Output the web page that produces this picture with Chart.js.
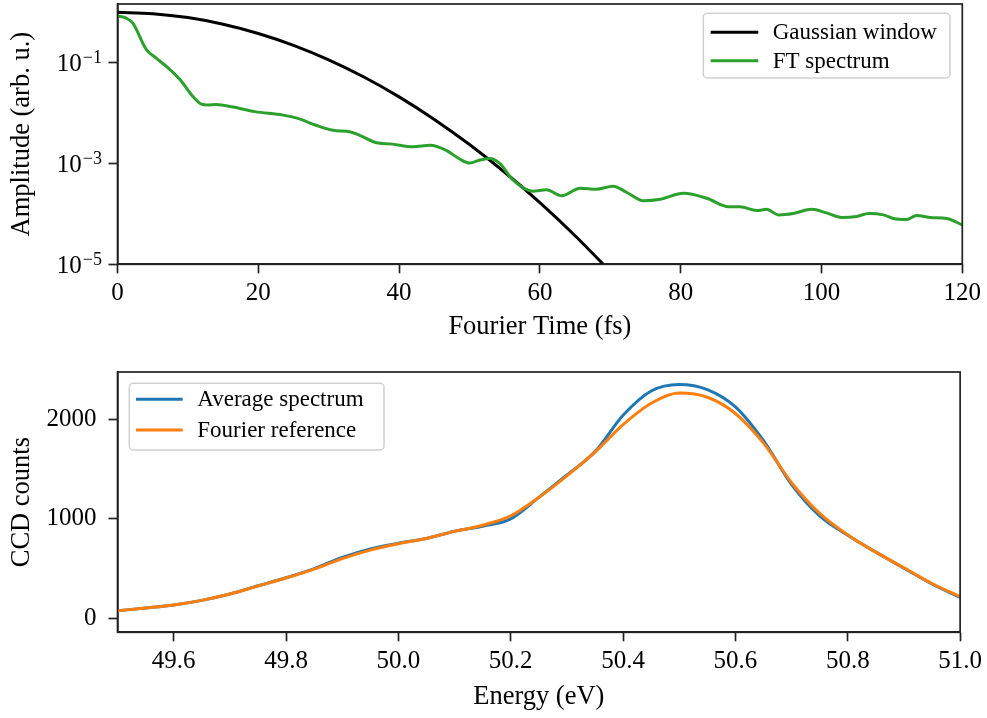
<!DOCTYPE html>
<html>
<head>
<meta charset="utf-8">
<script src="https://cdn.jsdelivr.net/npm/chart.js@4.4.0/dist/chart.umd.min.js"></script>
<style>
  html, body { margin: 0; padding: 0; background: #fff; }
  #wrap { position: relative; width: 987px; height: 718px; }
  .panel { position: absolute; left: 0; width: 987px; }
  #topPanel { top: 0; height: 345px; }
  #bottomPanel { top: 345px; height: 373px; }
</style>
</head>
<body>
<div id="wrap">
  <div class="panel" id="topPanel"><canvas id="ftChart"></canvas></div>
  <div class="panel" id="bottomPanel"><canvas id="specChart"></canvas></div>
</div>
<script>
// ---- Fourier-time panel data ----
const windowTime     = [0, 5, 10, 15, 20, 25, 30, 35, 40, 45, 50, 55, 60, 65, 70];
const gaussianWindow = [1.0, 0.94, 0.785, 0.58, 0.38, 0.221, 0.114, 0.0519, 0.021, 0.0075,
                        0.00238, 0.00067, 0.000167, 0.0000369, 0.0000072];

const ftTime = [0, 1.3, 2.2, 4.1, 5.5, 6.9, 8.9, 10.7, 11.9, 12.8,
                14.0, 16.4, 19.5, 23.5, 25.5, 28.2, 30.6, 33.0, 34.4, 36.8,
                38.7, 42.0, 44.4, 46.7, 48.6, 50.0, 51.5, 52.9, 54.3, 56.2,
                59.0, 60.9, 63.1, 65.7, 68.0, 70.4, 72.3, 74.7, 77.1, 80.4,
                83.7, 86.8, 88.4, 90.8, 92.2, 93.9, 96.0, 98.6, 100.7, 102.9,
                105.0, 106.7, 108.8, 110.2, 112.1, 113.5, 115.5, 117.8, 120];
const ftSpectrum = [0.843, 0.759, 0.603, 0.182, 0.123, 0.0851, 0.0457, 0.0214, 0.0151, 0.0145,
                    0.0148, 0.0132, 0.0107, 0.00912, 0.00794, 0.00575, 0.00457, 0.00427, 0.00363, 0.00257,
                    0.00245, 0.00214, 0.00229, 0.00182, 0.00123, 0.00102, 0.00117, 0.00126, 0.00100, 0.000468,
                    0.000282, 0.000302, 0.000229, 0.000324, 0.000309, 0.000355, 0.000269, 0.000182, 0.000195, 0.000257,
                    0.000204, 0.000138, 0.000138, 0.000117, 0.000123, 0.0000955, 0.000102, 0.000123, 0.000105, 0.0000851,
                    0.0000891, 0.000102, 0.0000955, 0.0000813, 0.0000776, 0.0000933, 0.0000851, 0.0000813, 0.0000603];

const timeTicks      = [0, 20, 40, 60, 80, 100, 120];
const amplitudeTicks = [1e-5, 1e-3, 1e-1];

// ---- Energy panel data ----
const energy = [49.50, 49.55, 49.60, 49.65, 49.70, 49.75, 49.80, 49.85, 49.90, 49.95,
                50.00, 50.05, 50.10, 50.15, 50.20, 50.25, 50.30, 50.35, 50.40, 50.45,
                50.50, 50.55, 50.60, 50.65, 50.70, 50.75, 50.80, 50.85, 50.90, 50.95, 51.00];
const averageSpectrum  = [76, 104, 135, 181, 245, 327, 408, 500, 612, 698,
                          755, 803, 876, 925, 1000, 1215, 1440, 1675, 2040, 2284,
                          2350, 2299, 2125, 1785, 1345, 1030, 835, 665, 505, 345, 210];
const fourierReference = [76, 104, 135, 181, 245, 325, 405, 495, 600, 686,
                          750, 803, 874, 936, 1030, 1215, 1432, 1670, 1946, 2161,
                          2263, 2221, 2058, 1760, 1363, 1054, 838, 665, 508, 350, 217];

const energyTicks = [49.6, 49.8, 50.0, 50.2, 50.4, 50.6, 50.8, 51.0];
const countTicks  = [0, 1000, 2000];

// ---- shared styling ----
const FONT = "'Liberation Serif', 'DejaVu Serif', serif";
const INK = '#000';
const SPINE = '#222';
const TITLE_SIZE = 26.5;
Chart.defaults.font.family = FONT;
Chart.defaults.color = INK;

const pairs = (xs, ys) => xs.map((x, i) => ({ x: x, y: ys[i] }));

function axis(extra) {
  return Object.assign({
    grid: { display: true, drawOnChartArea: false, drawTicks: true,
            tickLength: 9, tickWidth: 1.7, tickColor: SPINE },
    border: { display: true, color: SPINE, width: 1.7 },
    ticks: { color: INK, font: { size: 25 }, autoSkip: false, maxRotation: 0, minRotation: 0 }
  }, extra);
}

// full box around the plotting area
const frameBox = {
  id: 'frameBox',
  afterDraw(chart) {
    const a = chart.chartArea, ctx = chart.ctx;
    ctx.save();
    ctx.strokeStyle = SPINE;
    ctx.lineWidth = 1.7;
    ctx.strokeRect(a.left, a.top, a.right - a.left, a.bottom - a.top);
    ctx.restore();
  }
};

// legend box drawn inside the plotting area
const insetLegend = {
  id: 'insetLegend',
  afterDraw(chart, args, o) {
    const ctx = chart.ctx;
    ctx.save();
    const r = 4;
    ctx.beginPath();
    ctx.moveTo(o.x + r, o.y);
    ctx.arcTo(o.x + o.w, o.y, o.x + o.w, o.y + o.h, r);
    ctx.arcTo(o.x + o.w, o.y + o.h, o.x, o.y + o.h, r);
    ctx.arcTo(o.x, o.y + o.h, o.x, o.y, r);
    ctx.arcTo(o.x, o.y, o.x + o.w, o.y, r);
    ctx.closePath();
    ctx.fillStyle = 'rgba(255,255,255,0.85)';
    ctx.fill();
    ctx.strokeStyle = '#d0d0d0';
    ctx.lineWidth = 1.5;
    ctx.stroke();
    ctx.font = o.fontSize + 'px ' + FONT;
    ctx.textBaseline = 'middle';
    ctx.textAlign = 'left';
    chart.data.datasets.forEach((ds, i) => {
      const y = o.y + o.firstRow + i * o.rowGap;
      ctx.strokeStyle = ds.borderColor;
      ctx.lineWidth = 3;
      ctx.beginPath();
      ctx.moveTo(o.x + o.lineStart, y);
      ctx.lineTo(o.x + o.lineEnd, y);
      ctx.stroke();
      ctx.fillStyle = INK;
      ctx.fillText(ds.label, o.x + o.textStart, y + 1);
    });
    ctx.restore();
  }
};

// power-of-ten labels with raised exponents for the logarithmic axis
const powerLabels = {
  id: 'powerLabels',
  afterDraw(chart, args, o) {
    const s = chart.scales.y, ctx = chart.ctx;
    if (!o || !o.enabled) return;
    ctx.save();
    ctx.fillStyle = INK;
    ctx.textAlign = 'left';
    ctx.textBaseline = 'alphabetic';
    s.ticks.forEach(t => {
      const y = s.getPixelForValue(t.value);
      const e = Math.round(Math.log10(t.value));
      const base = '10';
      const sup = (e < 0 ? '\u2212' : '') + Math.abs(e);
      ctx.font = o.baseSize + 'px ' + FONT;
      const wb = ctx.measureText(base).width;
      ctx.font = o.supSize + 'px ' + FONT;
      const ws = ctx.measureText(sup).width;
      const x0 = s.right - o.gap - ws - wb - 1;
      ctx.font = o.baseSize + 'px ' + FONT;
      ctx.fillText(base, x0, y + o.baseDrop);
      ctx.font = o.supSize + 'px ' + FONT;
      ctx.fillText(sup, x0 + wb + 1, y + o.supDrop);
    });
    ctx.restore();
  }
};

const YAXIS_W = 117.5;

// ---- top panel: window and FT spectrum ----
new Chart(document.getElementById('ftChart'), {
  type: 'line',
  data: {
    datasets: [
      { label: 'Gaussian window', data: pairs(windowTime, gaussianWindow),
        borderColor: '#000000', borderWidth: 3, pointRadius: 0,
        cubicInterpolationMode: 'monotone', order: 1 },
      { label: 'FT spectrum', data: pairs(ftTime, ftSpectrum),
        borderColor: '#2ca02c', borderWidth: 3, pointRadius: 0,
        cubicInterpolationMode: 'monotone', order: 0 }
    ]
  },
  options: {
    responsive: true, maintainAspectRatio: false, animation: false, devicePixelRatio: 1,
    layout: { padding: { top: 4, right: 24.7, left: 0, bottom: 0 } },
    plugins: {
      legend: { display: false }, tooltip: { enabled: false },
      insetLegend: { x: 703.3, y: 13.3, w: 246.7, h: 64.7, firstRow: 19, rowGap: 28.4,
                     lineStart: 7.4, lineEnd: 55, textStart: 69.4, fontSize: 23 },
      powerLabels: { enabled: true, baseSize: 25, supSize: 18, gap: 15.5, baseDrop: 8.5, supDrop: 0.5 }
    },
    scales: {
      x: axis({
        type: 'linear', min: 0, max: 120,
        afterBuildTicks: s => { s.ticks = timeTicks.map(v => ({ value: v })); },
        afterFit: s => { s.height = 345 - 264.3; },
        ticks: { color: INK, font: { size: 25 }, padding: 5, autoSkip: false, maxRotation: 0,
                 callback: v => String(v) },
        title: { display: true, text: 'Fourier Time (fs)', color: INK,
                 font: { size: TITLE_SIZE }, padding: { top: 0, bottom: 2 } }
      }),
      y: axis({
        type: 'logarithmic', min: 1e-5, max: 1.46,
        afterBuildTicks: s => { s.ticks = amplitudeTicks.map(v => ({ value: v })); },
        afterFit: s => { s.width = YAXIS_W; },
        ticks: { display: false },
        title: { display: true, text: 'Amplitude (arb. u.)', color: INK,
                 font: { size: TITLE_SIZE }, padding: { top: 6, bottom: 0 } }
      })
    }
  },
  plugins: [frameBox, insetLegend, powerLabels]
});

// ---- bottom panel: measured and reference spectra ----
new Chart(document.getElementById('specChart'), {
  type: 'line',
  data: {
    datasets: [
      { label: 'Average spectrum', data: pairs(energy, averageSpectrum),
        borderColor: '#1f77b4', borderWidth: 3, pointRadius: 0,
        cubicInterpolationMode: 'monotone', order: 1 },
      { label: 'Fourier reference', data: pairs(energy, fourierReference),
        borderColor: '#ff7f0e', borderWidth: 3, pointRadius: 0,
        cubicInterpolationMode: 'monotone', order: 0 }
    ]
  },
  options: {
    responsive: true, maintainAspectRatio: false, animation: false, devicePixelRatio: 1,
    layout: { padding: { top: 26.7, right: 24.7, left: 0, bottom: 0 } },
    plugins: {
      legend: { display: false }, tooltip: { enabled: false },
      insetLegend: { x: 129.3, y: 38.3, w: 254.7, h: 66.7, firstRow: 16, rowGap: 30.7,
                     lineStart: 6.7, lineEnd: 53.4, textStart: 68, fontSize: 23 }
    },
    scales: {
      x: axis({
        type: 'linear', min: 49.5, max: 51.0,
        afterBuildTicks: s => { s.ticks = energyTicks.map(v => ({ value: v })); },
        afterFit: s => { s.height = 373 - 287.3; },
        ticks: { color: INK, font: { size: 25 }, padding: 5, autoSkip: false, maxRotation: 0,
                 callback: v => Number(v).toFixed(1) },
        title: { display: true, text: 'Energy (eV)', color: INK,
                 font: { size: TITLE_SIZE }, padding: { top: 0, bottom: 5 } }
      }),
      y: axis({
        type: 'linear', min: -140, max: 2475,
        afterBuildTicks: s => { s.ticks = countTicks.map(v => ({ value: v })); },
        afterFit: s => { s.width = YAXIS_W; },
        ticks: { color: INK, font: { size: 25 }, padding: 12, callback: v => String(v) },
        title: { display: true, text: 'CCD counts', color: INK,
                 font: { size: TITLE_SIZE }, padding: { top: 6, bottom: 0 } }
      })
    }
  },
  plugins: [frameBox, insetLegend]
});
</script>
</body>
</html>
